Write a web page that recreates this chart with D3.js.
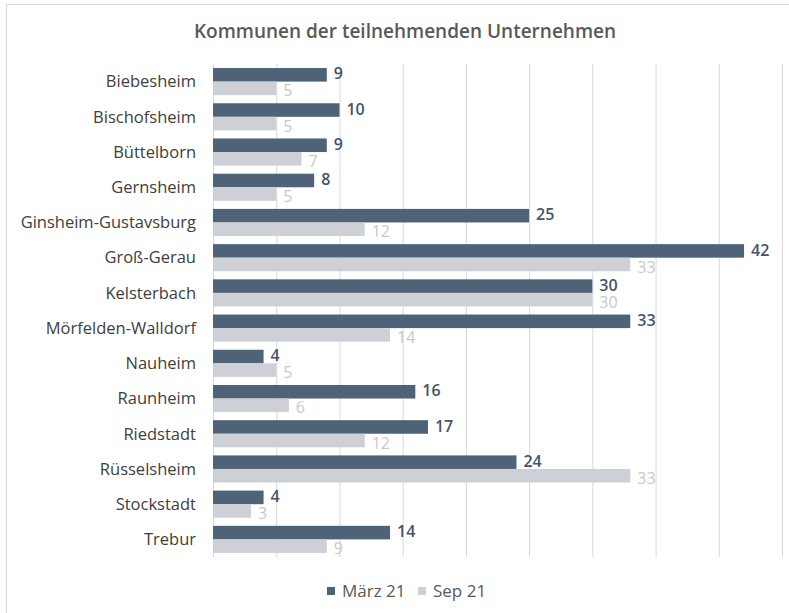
<!DOCTYPE html>
<html>
<head>
<meta charset="utf-8">
<script src="https://cdn.jsdelivr.net/npm/d3@7"></script>
<style>
  body { margin: 0; background: #fff; }
  text { font-family: "Open Sans", "Noto Sans", sans-serif; }
</style>
</head>
<body id="viz">
<script>
// Data
var communes = ["Biebesheim", "Bischofsheim", "Büttelborn", "Gernsheim", "Ginsheim-Gustavsburg",
  "Groß-Gerau", "Kelsterbach", "Mörfelden-Walldorf", "Nauheim", "Raunheim", "Riedstadt",
  "Rüsselsheim", "Stockstadt", "Trebur"]
var maerz21 = [9, 10, 9, 8, 25, 42, 30, 33, 4, 16, 17, 24, 4, 14]
var sep21 = [5, 5, 7, 5, 12, 33, 30, 14, 5, 6, 12, 33, 3, 9]
var seriesNames = ["März 21", "Sep 21"]
var xTicks = [0, 5, 10, 15, 20, 25, 30, 35, 40, 45]

// Layout
var width = 789, height = 613
var plot_left = 213, plot_right = 782, plot_top = 64, plot_bottom = 557
var dark = "#4e6278", light = "#cdd0d6"

var svg = d3.select("body#viz")
  .append("svg")
  .attr("width", width)
  .attr("height", height)

// chart border
svg.append("rect")
  .attr("x", 6.5).attr("y", 4.5)
  .attr("width", 790).attr("height", 620)
  .attr("fill", "#fff")
  .attr("stroke", "#d9d9d9")

var x = d3.scaleLinear().domain([0, 45]).range([plot_left, plot_right])
var y = d3.scaleBand().domain(communes).range([plot_top, plot_bottom]).paddingInner(0.23).paddingOuter(0.115)
var ySub = d3.scaleBand().domain(seriesNames).range([0, y.bandwidth()])

// gridlines
svg.append("g")
  .selectAll("line")
  .data(xTicks)
  .enter().append("line")
    .attr("x1", function(d) { return x(d) + 0.5 })
    .attr("x2", function(d) { return x(d) + 0.5 })
    .attr("y1", plot_top)
    .attr("y2", plot_bottom)
    .style("stroke", "#d9d9d9")
    .style("stroke-width", 1)

// Title
svg.append("text")
  .attr("x", 405)
  .attr("y", 38)
  .attr("text-anchor", "middle")
  .text("Kommunen der teilnehmenden Unternehmen")
  .style("font-size", "19px")
  .style("font-weight", "600")
  .style("fill", "#595959")

// category labels
svg.append("g")
  .selectAll("text")
  .data(communes)
  .enter().append("text")
    .attr("x", 196)
    .attr("y", function(d) { return y(d) + y.bandwidth() / 2 })
    .attr("dy", "0.35em")
    .attr("text-anchor", "end")
    .text(function(d) { return d })
    .style("font-size", "16.5px")
    .style("fill", "#404040")

var rows = communes.map(function(c, i) { return {name: c, values: [maerz21[i], sep21[i]]} })

var groups = svg.append("g")
  .selectAll("g")
  .data(rows)
  .enter().append("g")
    .attr("transform", function(d) { return "translate(0," + y(d.name) + ")" })

groups.selectAll("rect")
  .data(function(d) { return d.values.map(function(v, j) { return {s: seriesNames[j], v: v} }) })
  .enter().append("rect")
    .attr("x", x(0))
    .attr("y", function(d) { return ySub(d.s) })
    .attr("width", function(d) { return x(d.v) - x(0) })
    .attr("height", ySub.bandwidth())
    .attr("fill", function(d) { return d.s == seriesNames[0] ? dark : light })

groups.selectAll("text")
  .data(function(d) { return d.values.map(function(v, j) { return {s: seriesNames[j], v: v} }) })
  .enter().append("text")
    .attr("x", function(d) { return x(d.v) + 7 })
    .attr("y", function(d) { return ySub(d.s) + ySub.bandwidth() / 2 + (d.s == seriesNames[0] ? -1 : 2.5) })
    .attr("dy", "0.35em")
    .text(function(d) { return d.v })
    .style("font-size", "16px")
    .style("font-weight", function(d) { return d.s == seriesNames[0] ? "600" : "normal" })
    .style("fill", function(d) { return d.s == seriesNames[0] ? "#44546a" : "#c5c9cf" })

// Legend
var legend = svg.append("g")
  .selectAll("g")
  .data(seriesNames)
  .enter().append("g")
    .attr("transform", function(d, i) { return "translate(" + (327 + i * 91) + ",591)" })

legend.append("rect")
  .attr("x", 0).attr("y", -4)
  .attr("width", 8).attr("height", 8)
  .attr("fill", function(d, i) { return i == 0 ? dark : light })

legend.append("text")
  .attr("x", 15)
  .attr("y", 0)
  .attr("dy", "0.35em")
  .text(function(d) { return d })
  .style("font-size", "17px")
  .style("fill", "#595959")
</script>
</body>
</html>
